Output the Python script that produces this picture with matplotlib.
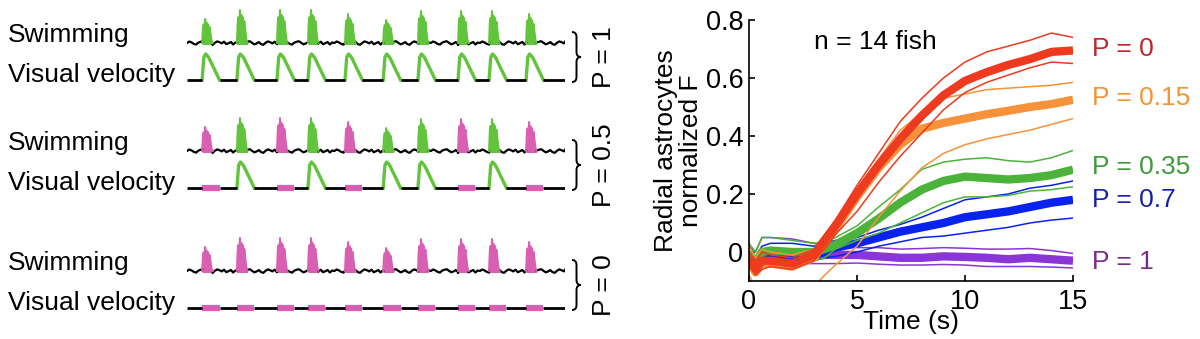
import matplotlib
matplotlib.use("Agg")
import matplotlib.pyplot as plt
import numpy as np
from matplotlib.path import Path
from matplotlib.patches import PathPatch
from matplotlib.transforms import blended_transform_factory

plt.rcParams['font.family'] = ['Liberation Sans', 'DejaVu Sans']

# ---------------- left panel: swim bouts and visual feedback ----------------
trace_len = 100.0
burst_onsets = [4.0, 13.2, 23.8, 32.0, 41.8, 51.9, 61.1, 71.7, 79.9, 89.7]
burst_heights = [24, 33, 33, 33, 29, 23, 32, 32, 32, 29]
burst_dur = 2.8
burst_shape = [0.0, 0.62, 0.78, 0.55, 1.0, 0.7, 0.85, 0.62, 0.78, 0.55, 0.66, 0.42, 0.2, 0.05, 0.0]
vel_dur = 4.6
vel_height = 26
vel_shape = [0.0, 0.88, 1.0, 0.93, 0.84, 0.7, 0.56, 0.42, 0.28, 0.14, 0.0]
# wiggle of the resting swim signal, repeated between bouts
rest_noise = [0.0, 1.5, 0.6, -0.9, -1.6, 0.4, 1.2, 1.8, 0.2, -1.3, -0.5, 0.9,
              -1.1, -1.8, 0.3, 1.6, 0.8, -0.4, 1.3, -1.2, -0.2, 1.0, -1.5, 0.5]
noise_step = 0.6

# 1 = visual feedback given for that bout, 0 = withheld
groups = [
    ("P = 1",   [1, 1, 1, 1, 1, 1, 1, 1, 1, 1]),
    ("P = 0.5", [0, 1, 0, 1, 0, 1, 1, 0, 1, 0]),
    ("P = 0",   [0, 0, 0, 0, 0, 0, 0, 0, 0, 0]),
]
vel_baseline_px = [80, 188, 308]
swim_offset = 37

green = '#62c43c'
pink = '#d95fb2'

W, H = 1200, 339
fig = plt.figure(figsize=(W / 100, H / 100), dpi=100)


def brace(ax, x0, y0, y1, w, q):
    ym = (y0 + y1) / 2
    xm = x0 + w / 2
    verts = [(x0, y1), (xm, y1), (xm, y1 - q), (xm, ym + q), (xm, ym), (x0 + w, ym),
             (xm, ym), (xm, ym - q), (xm, y0 + q), (xm, y0), (x0, y0)]
    codes = [Path.MOVETO, Path.CURVE3, Path.CURVE3, Path.LINETO, Path.CURVE3, Path.CURVE3,
             Path.CURVE3, Path.CURVE3, Path.LINETO, Path.CURVE3, Path.CURVE3]
    tr = blended_transform_factory(ax.transAxes, ax.transData)
    ax.add_patch(PathPatch(Path(verts, codes), fill=False, lw=1.4, color='k',
                           transform=tr, clip_on=False))


for (plabel, feedback), yv in zip(groups, vel_baseline_px):
    ax = fig.add_axes([187 / W, 1 - (yv + 5) / H, 378 / W, 78 / H])
    ax.set_xlim(0, trace_len)
    ax.set_ylim(-5, 73)
    ax.axis('off')

    # resting swim signal between bouts
    k = 0
    for i in range(len(burst_onsets) + 1):
        a = 0.0 if i == 0 else burst_onsets[i - 1] + burst_dur
        b = burst_onsets[i] if i < len(burst_onsets) else trace_len
        xs = np.append(np.arange(a, b, noise_step), b)
        ys = np.take(rest_noise, np.arange(k, k + len(xs)), mode='wrap') + swim_offset
        k += len(xs) + 5
        ax.plot(xs, ys, color='k', lw=1.6)

    # swim bouts and visual velocity
    for onset, h, fb in zip(burst_onsets, burst_heights, feedback):
        c = green if fb else pink
        xs = onset + np.linspace(0, burst_dur, len(burst_shape))
        ys = swim_offset + h * np.array(burst_shape)
        ax.fill_between(xs, swim_offset - 1.5, ys, color=c, lw=0)
        ax.plot(xs, ys, color=c, lw=1.4)
        if fb:
            xv = onset + np.linspace(0, vel_dur, len(vel_shape))
            ax.plot(xv, vel_height * np.array(vel_shape), color=c, lw=2.4)
        else:
            ax.plot([onset, onset + vel_dur], [0, 0], color=c, lw=4.5, solid_capstyle='butt')

    # flat visual velocity between pulses
    for i in range(len(burst_onsets) + 1):
        a = 0.0 if i == 0 else burst_onsets[i - 1] + vel_dur
        b = burst_onsets[i] if i < len(burst_onsets) else trace_len
        ax.plot([a, b], [0, 0], color='k', lw=2.0, solid_capstyle='butt')

    tr = blended_transform_factory(fig.transFigure, ax.transData)
    ax.text(8 / W, swim_offset + 1, "Swimming", transform=tr, fontsize=19, va='baseline')
    ax.text(8 / W, -2, "Visual velocity", transform=tr, fontsize=19, va='baseline')

    brace(ax, (572 - 187) / 378, -2, 48, 9 / 378, 5)
    ax.text((604 - 187) / 378, 23, plabel, transform=blended_transform_factory(ax.transAxes, ax.transData),
            rotation=90, fontsize=19, ha='center', va='center')

# ---------------- right panel: astrocyte responses ----------------
t = [0, 0.3, 0.6, 1, 2, 3, 3.5, 4, 5, 6, 7, 8, 9, 10, 11, 12, 13, 14, 15]

p0_mean = [-0.02, -0.06, -0.03, -0.03, -0.04, -0.01, 0.04, 0.09, 0.20, 0.30, 0.39, 0.47, 0.54, 0.59, 0.62, 0.645, 0.665, 0.69, 0.695]
p0_hi = [0.0, -0.03, 0.0, -0.01, -0.02, 0.01, 0.06, 0.11, 0.23, 0.34, 0.45, 0.53, 0.60, 0.655, 0.69, 0.71, 0.73, 0.755, 0.74]
p0_lo = [-0.04, -0.08, -0.06, -0.05, -0.06, -0.03, 0.01, 0.06, 0.14, 0.24, 0.33, 0.41, 0.49, 0.55, 0.585, 0.61, 0.635, 0.655, 0.65]

p015_mean = [-0.03, -0.07, -0.04, -0.04, -0.05, -0.02, 0.03, 0.08, 0.19, 0.29, 0.37, 0.425, 0.445, 0.46, 0.475, 0.487, 0.50, 0.51, 0.525]
p015_hi = [0.02, -0.02, 0.01, 0.0, -0.01, 0.01, 0.06, 0.11, 0.22, 0.32, 0.42, 0.48, 0.53, 0.545, 0.56, 0.565, 0.57, 0.575, 0.585]
p015_lo = [-0.08, -0.12, -0.11, -0.12, -0.13, -0.12, -0.08, -0.045, 0.02, 0.12, 0.21, 0.29, 0.34, 0.37, 0.39, 0.405, 0.42, 0.44, 0.46]

p035_mean = [0.0, -0.04, 0.0, 0.005, 0.0, 0.0, 0.01, 0.025, 0.065, 0.115, 0.17, 0.215, 0.245, 0.26, 0.255, 0.25, 0.255, 0.265, 0.284]
p035_hi = [0.03, 0.0, 0.05, 0.05, 0.04, 0.03, 0.035, 0.05, 0.09, 0.155, 0.215, 0.285, 0.31, 0.32, 0.325, 0.315, 0.31, 0.325, 0.35]
p035_lo = [-0.03, -0.06, -0.03, -0.03, -0.03, -0.03, -0.02, 0.01, 0.04, 0.065, 0.10, 0.135, 0.17, 0.19, 0.19, 0.195, 0.21, 0.215, 0.225]

p07_mean = [-0.02, -0.05, -0.02, -0.02, -0.02, -0.01, 0.0, 0.015, 0.03, 0.05, 0.07, 0.085, 0.10, 0.12, 0.13, 0.14, 0.155, 0.17, 0.18]
p07_hi = [0.0, -0.02, 0.02, 0.03, 0.03, 0.02, 0.03, 0.04, 0.05, 0.075, 0.095, 0.12, 0.15, 0.18, 0.19, 0.20, 0.22, 0.23, 0.245]
p07_lo = [-0.04, -0.06, -0.04, -0.04, -0.04, -0.03, -0.02, -0.015, 0.0, 0.02, 0.035, 0.05, 0.055, 0.065, 0.075, 0.085, 0.10, 0.11, 0.117]

p1_mean = [-0.02, -0.05, -0.02, -0.02, -0.02, -0.015, -0.01, -0.01, -0.01, -0.015, -0.02, -0.02, -0.015, -0.017, -0.02, -0.025, -0.02, -0.025, -0.03]
p1_hi = [0.02, 0.0, 0.05, 0.05, 0.045, 0.03, 0.02, 0.02, 0.015, 0.015, 0.01, 0.012, 0.015, 0.013, 0.01, 0.01, 0.012, 0.005, -0.005]
p1_lo = [-0.04, -0.07, -0.05, -0.04, -0.04, -0.04, -0.04, -0.04, -0.038, -0.042, -0.045, -0.045, -0.043, -0.045, -0.05, -0.05, -0.05, -0.052, -0.055]

conditions = [
    ("P = 1", p1_mean, p1_hi, p1_lo, '#8a35d6', '#7a2a8c', -0.035),
    ("P = 0.7", p07_mean, p07_hi, p07_lo, '#0a22ee', '#1620a8', 0.18),
    ("P = 0.35", p035_mean, p035_hi, p035_lo, '#4cb33a', '#3e9a3a', 0.293),
    ("P = 0.15", p015_mean, p015_hi, p015_lo, '#f7923a', '#f39430', 0.53),
    ("P = 0", p0_mean, p0_hi, p0_lo, '#ee3a1e', '#c0262b', 0.70),
]

ax = fig.add_axes([749 / W, 1 - 281 / H, 324 / W, 261 / H])
for label, m, hi, lo, c, tc, ly in conditions:
    ax.plot(t, hi, color=c, lw=1.1)
    ax.plot(t, lo, color=c, lw=1.1)
    ax.plot(t, m, color=c, lw=6, solid_capstyle='butt')
    ax.text(1.06, ly, label, transform=blended_transform_factory(ax.transAxes, ax.transData),
            color=tc, fontsize=19, va='center', ha='left')

ax.set_xlim(0, 15)
ax.set_ylim(-0.1, 0.8)
ax.set_xticks([0, 5, 10, 15])
ax.set_yticks([0, 0.2, 0.4, 0.6, 0.8])
ax.set_yticklabels(["0", "0.2", "0.4", "0.6", "0.8"])
ax.spines['top'].set_visible(False)
ax.spines['right'].set_visible(False)
ax.spines['left'].set_linewidth(1.2)
ax.spines['bottom'].set_linewidth(1.2)
ax.tick_params(direction='in', labelsize=19.5, length=4, width=1.2, pad=4)
ax.tick_params(axis='x', pad=6)
ax.set_xlabel("Time (s)", fontsize=19, labelpad=-4)
ax.set_ylabel("Radial astrocytes\nnormalized F", fontsize=19, labelpad=2, linespacing=1.05)
ax.text(0.39, 0.915, "n = 14 fish", transform=ax.transAxes, fontsize=19, ha='center', va='center')

fig.savefig("out.png", dpi=100)
